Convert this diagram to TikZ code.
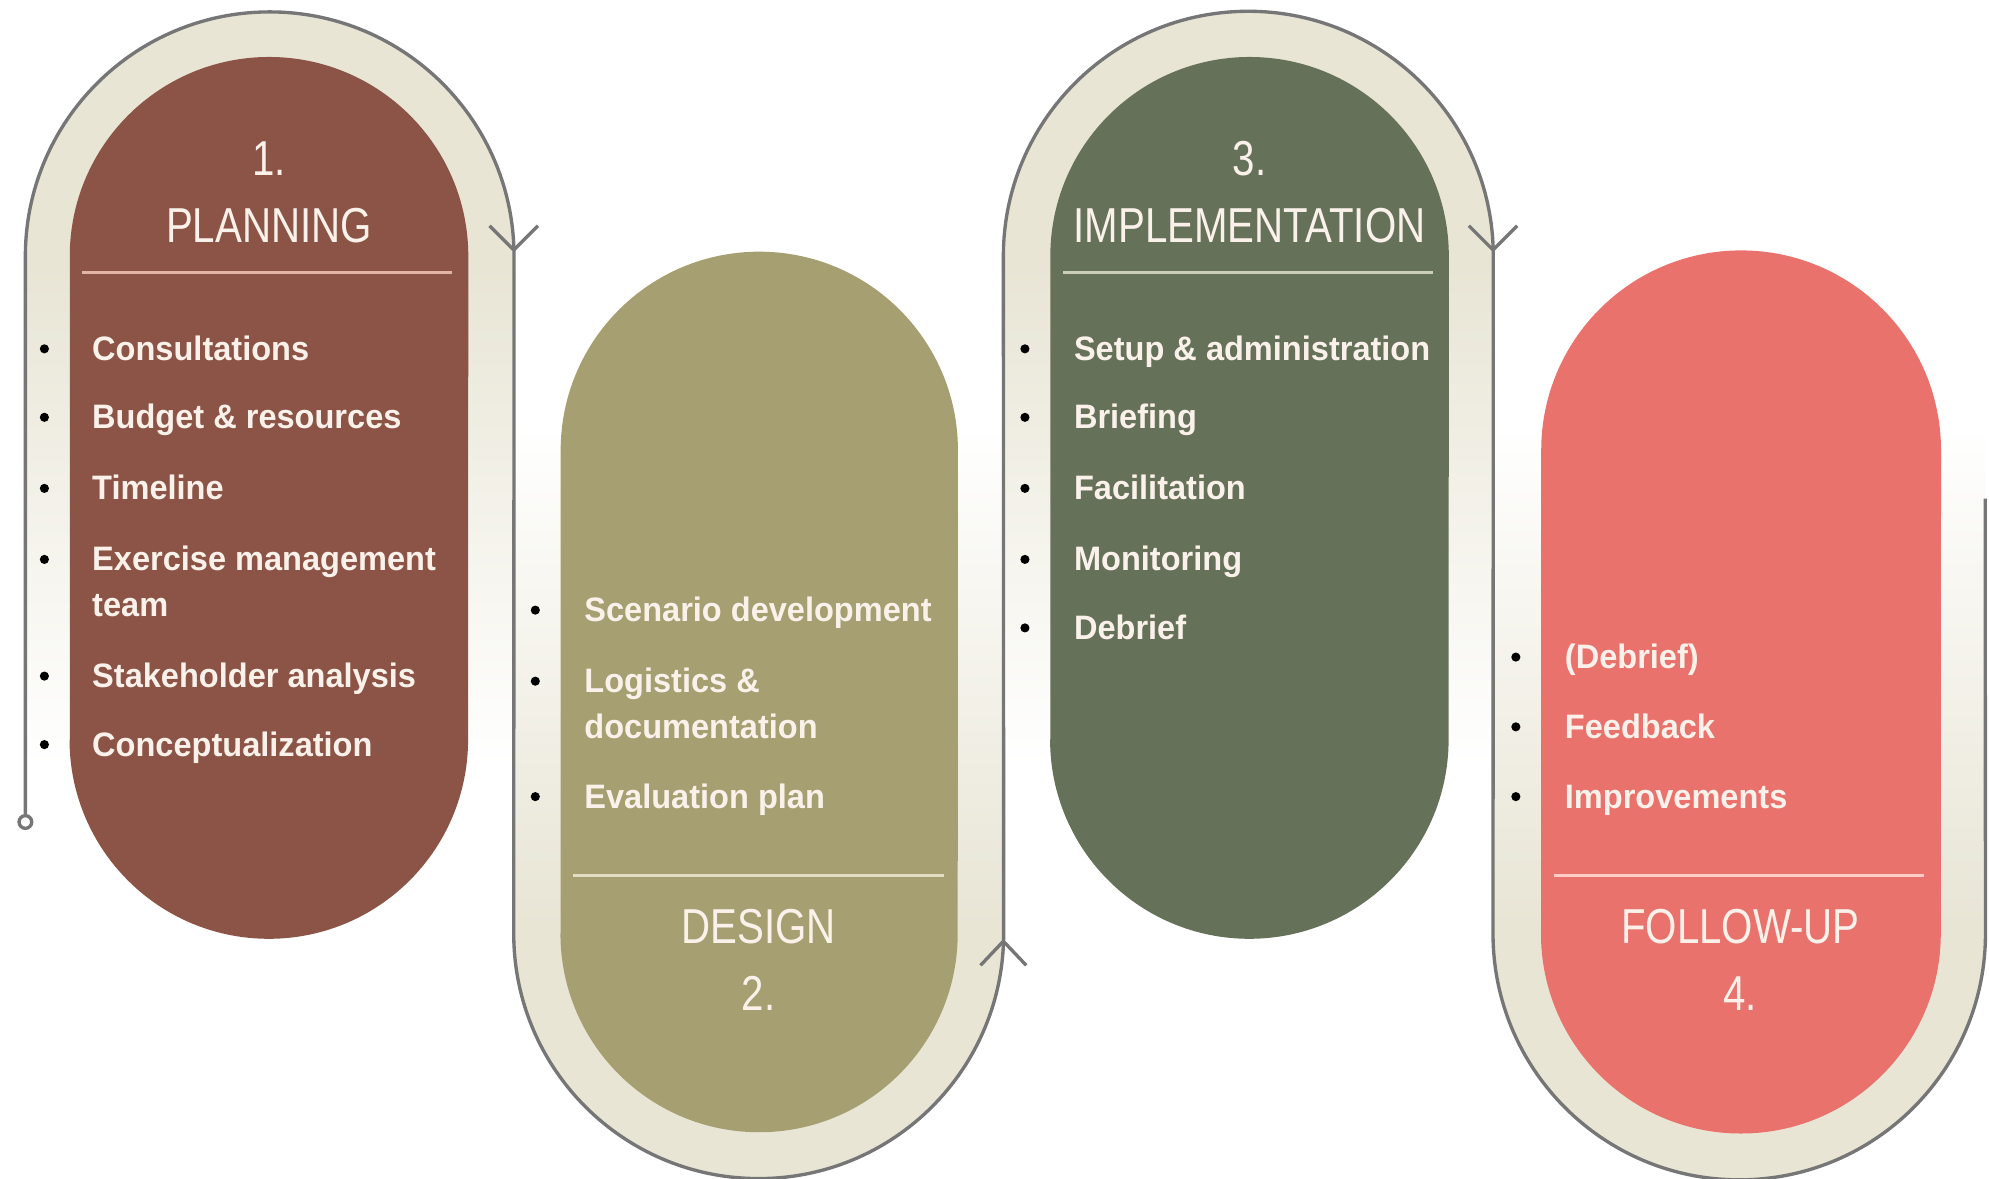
\documentclass[tikz,border=0pt]{standalone}
\usepackage{fontspec}
\setmainfont{Liberation Sans}
\newfontfamily\titlefont[FakeStretch=0.82]{Liberation Sans}
\newfontfamily\itemfont[FakeStretch=0.96]{Liberation Sans}
\definecolor{bandc}{RGB}{232,229,213}
\definecolor{planc}{RGB}{140,84,70}
\definecolor{desc}{RGB}{166,159,113}
\definecolor{impc}{RGB}{102,113,89}
\definecolor{folc}{RGB}{234,114,108}
\definecolor{linec}{RGB}{118,118,118}
\definecolor{txtc}{RGB}{250,242,234}
\definecolor{divone}{RGB}{226,180,168}
\definecolor{divtwo}{RGB}{226,221,196}
\definecolor{divthree}{RGB}{202,206,186}
\definecolor{divfour}{RGB}{252,204,198}
\pgfdeclareverticalshading{fadedown}{100bp}{color(0bp)=(white); color(27bp)=(white); color(59bp)=(bandc); color(100bp)=(bandc)}
\pgfdeclareverticalshading{fadeup}{100bp}{color(0bp)=(bandc); color(41bp)=(bandc); color(73bp)=(white); color(100bp)=(white)}
\tikzset{
  serp/.style={draw=linec, line width=0.75pt, line join=round},
  item/.style={anchor=base west, inner sep=0pt, text=txtc, font=\itemfont\bfseries\fontsize{7.6}{9}\selectfont},
  ttl/.style={anchor=base, inner sep=0pt, text=txtc, font=\titlefont\fontsize{11}{13}\selectfont},
  bul/.style={circle, fill=black, inner sep=0pt, minimum size=0.072cm},
  divline/.style={line width=0.6pt},
}
\begin{document}
\begin{tikzpicture}[x=0.01cm,y=0.01cm]
\useasboundingbox (0,0) rectangle (1568,929);
\fill[white] (0,0) rectangle (1568,929);
% outer bands
\shade[shading=fadedown] (20,300) -- (20,727) arc[start angle=180,end angle=0,radius=1.925cm] -- (405,300) -- cycle;
\shade[shading=fadedown] (792,300) -- (792,727) arc[start angle=180,end angle=0,radius=1.925cm] -- (1177,300) -- cycle;
\shade[shading=fadeup] (405,620) -- (405,193) arc[start angle=180,end angle=360,radius=1.93cm] -- (791,620) -- cycle;
\shade[shading=fadeup] (1177,620) -- (1177,193) arc[start angle=180,end angle=360,radius=1.94cm] -- (1565,620) -- cycle;
% serpentine line
\node[circle, draw=linec, line width=0.75pt, fill=white, inner sep=0pt, minimum size=0.1cm] (start) at (20,281) {};
\coordinate (finish) at (1565,536);
\draw[serp] (start.north) -- (20,727) arc[start angle=180,end angle=0,radius=1.925cm]
  -- (405,193) arc[start angle=180,end angle=360,radius=1.93cm]
  -- (791,727) arc[start angle=180,end angle=0,radius=1.93cm]
  -- (1177,193) arc[start angle=180,end angle=360,radius=1.94cm]
  -- (finish);
\draw[serp] (386,751) -- (405,732) -- (424,751);
\draw[serp] (1158,751) -- (1177,732) -- (1196,751);
\draw[serp] (773,168) -- (791,187) -- (809,168);
% inner pills
\fill[planc] (55,346) -- (55,727) arc[start angle=180,end angle=0,radius=1.57cm] -- (369,346) arc[start angle=0,end angle=-180,radius=1.57cm] -- cycle;
\fill[desc] (442,193) -- (442,574) arc[start angle=180,end angle=0,radius=1.565cm] -- (755,193) arc[start angle=0,end angle=-180,radius=1.565cm] -- cycle;
\fill[impc] (828,346) -- (828,727) arc[start angle=180,end angle=0,radius=1.57cm] -- (1142,346) arc[start angle=0,end angle=-180,radius=1.57cm] -- cycle;
\fill[folc] (1215,193) -- (1215,574) arc[start angle=180,end angle=0,radius=1.575cm] -- (1530,193) arc[start angle=0,end angle=-180,radius=1.575cm] -- cycle;
% pill 1
\node[ttl] (t1n) at (212,791) {1.};
\node[ttl] (t1) at (212,738) {PLANNING};
\draw[divline, divone] (65,714) -- (356,714);
\foreach \yy/\nm/\tx in {654/a/Consultations, 600/b/{Budget \& resources}, 544/c/Timeline, 488/d/{Exercise management}, 396/e/{Stakeholder analysis}, 342/f/Conceptualization}{
  \node[bul] (p1\nm b) at (35,\yy) {};
  \node[item] (p1\nm) at (72,\yy-9) {\tx};
}
\node[item] (p1d2) at (72,443) {team};
% pill 2
\foreach \yy/\nm/\tx in {448/a/{Scenario development}, 392/b/{Logistics \&}, 301/c/{Evaluation plan}}{
  \node[bul] (p2\nm b) at (422,\yy) {};
  \node[item] (p2\nm) at (460,\yy-9) {\tx};
}
\node[item] (p2b2) at (460,347) {documentation};
\draw[divline, divtwo] (452,239) -- (744,239);
\node[ttl] (t2) at (598,185) {DESIGN};
\node[ttl] (t2n) at (598,132) {2.};
% pill 3
\node[ttl] (t3n) at (985,791) {3.};
\node[ttl] (t3) at (985,738) {IMPLEMENTATION};
\draw[divline, divthree] (838,714) -- (1130,714);
\foreach \yy/\nm/\tx in {654/a/{Setup \& administration}, 600/b/Briefing, 544/c/Facilitation, 488/d/Monitoring, 434/e/Debrief}{
  \node[bul] (p3\nm b) at (808,\yy) {};
  \node[item] (p3\nm) at (846,\yy-9) {\tx};
}
% pill 4
\foreach \yy/\nm/\tx in {411/a/(Debrief), 356/b/Feedback, 301/c/Improvements}{
  \node[bul] (p4\nm b) at (1195,\yy) {};
  \node[item] (p4\nm) at (1233,\yy-9) {\tx};
}
\draw[divline, divfour] (1225,239) -- (1517,239);
\node[ttl] (t4) at (1372,185) {FOLLOW-UP};
\node[ttl] (t4n) at (1372,132) {4.};
\end{tikzpicture}
\end{document}
